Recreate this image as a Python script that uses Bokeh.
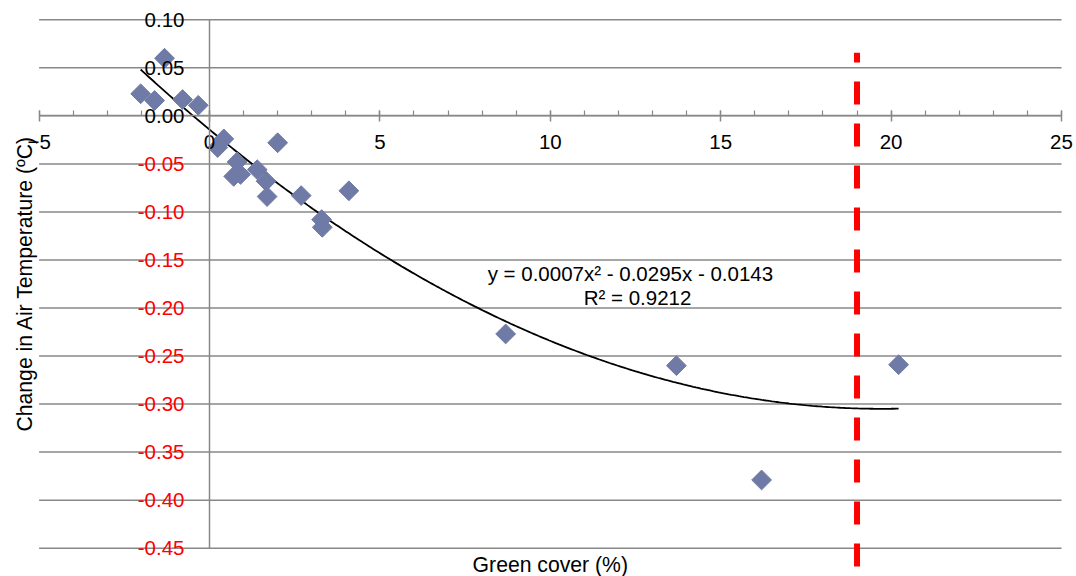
import numpy as np
from bokeh.plotting import figure
from bokeh.models import (Range1d, LinearAxis, FixedTicker, SingleIntervalTicker,
                          PrintfTickFormatter, Label)
from bokeh.embed import file_html
from bokeh.resources import INLINE

# ---------------- data ----------------
green_cover = [-2.02, -1.61, -1.32, -0.79, -0.33, 0.42, 0.24, 0.81, 0.71, 0.91, 1.40,
               1.66, 1.69, 2.00, 2.69, 3.29, 3.31, 4.09, 8.69, 13.70, 16.20, 20.22]
temp_change = [0.023, 0.016, 0.060, 0.017, 0.011, -0.024, -0.033, -0.048, -0.063, -0.061,
               -0.056, -0.068, -0.084, -0.028, -0.083, -0.108, -0.116, -0.078, -0.227,
               -0.260, -0.379, -0.259]

trend_coeffs = [0.000746, -0.02945, -0.0143]
trend_text = "y = 0.0007x² - 0.0295x - 0.0143"
r2_text = "R² = 0.9212"

threshold_x = 19
threshold_y = [-0.469, 0.0656]

x_axis_limits = (-5, 25)
y_axis_limits = (-0.45, 0.10)
y_ticks_pos = [0.0, 0.05, 0.10]
y_ticks_neg = [-0.05, -0.10, -0.15, -0.20, -0.25, -0.30, -0.35, -0.40, -0.45]
y_ticks_all = y_ticks_neg + y_ticks_pos

x_title = "Green cover (%)"
y_title = "Change in Air Temperature (ºC)"

FONT = "Liberation Sans"
FS = "20.5px"
FS_TITLE = "21.2px"
GRAY = "#888888"
MARKER = "#6F7BA6"

# the frame covers the whole canvas so that every text is inside it
p = figure(width=1076, height=576, x_range=Range1d(-6.1326, 25.44),
           y_range=Range1d(-0.4795, 0.1201),
           output_backend="svg", toolbar_location=None,
           min_border_left=0, min_border_right=0, min_border_top=0, min_border_bottom=0)
p.outline_line_color = None
p.background_fill_color = "white"
p.xgrid.visible = False
p.ygrid.visible = False

# horizontal gridlines, spanning the x axis extent
n = len(y_ticks_all)
p.segment(x0=[x_axis_limits[0]] * n, y0=y_ticks_all, x1=[x_axis_limits[1]] * n,
          y1=y_ticks_all, line_color=GRAY, line_width=1.5)

# x axis crossing at y = 0
xa = p.xaxis[0]
xa.fixed_location = 0
xa.bounds = x_axis_limits
xa.ticker = SingleIntervalTicker(interval=5, num_minor_ticks=5)
xa.axis_line_color = GRAY
xa.axis_line_width = 1.5
xa.major_tick_line_color = GRAY
xa.major_tick_line_width = 1.5
xa.minor_tick_line_color = GRAY
xa.minor_tick_line_width = 1.2
xa.major_tick_in = 5
xa.major_tick_out = 6
xa.minor_tick_in = 5
xa.minor_tick_out = 0
xa.major_label_standoff = 13
xa.major_label_text_font = FONT
xa.major_label_text_font_size = FS
xa.major_label_text_color = "black"

# y axis (negative labels in red) crossing at x = 0
ya = p.yaxis[0]
ya.fixed_location = 0
ya.bounds = y_axis_limits
ya.ticker = FixedTicker(ticks=y_ticks_neg)
ya.formatter = PrintfTickFormatter(format="%.2f")
ya.axis_line_color = GRAY
ya.axis_line_width = 1.5
ya.major_tick_in = 0
ya.major_tick_out = 0
ya.minor_tick_in = 0
ya.minor_tick_out = 0
ya.major_label_standoff = 25
ya.major_label_text_font = FONT
ya.major_label_text_font_size = FS
ya.major_label_text_color = "#FF0000"

# second y axis for non-negative labels (black)
ya2 = LinearAxis(fixed_location=0, bounds=y_axis_limits, ticker=FixedTicker(ticks=y_ticks_pos),
                 formatter=PrintfTickFormatter(format="%.2f"),
                 axis_line_color=None, major_tick_in=0, major_tick_out=0,
                 minor_tick_in=0, minor_tick_out=0, major_label_standoff=25,
                 major_label_text_font=FONT, major_label_text_font_size=FS,
                 major_label_text_color="black")
p.add_layout(ya2, "left")

# threshold dashed line
p.line([threshold_x, threshold_x], threshold_y, line_color="#FF0000", line_width=6,
       line_dash="23 19")

# trendline
x_fit = np.linspace(min(green_cover), max(green_cover), 300)
y_fit = np.polyval(trend_coeffs, x_fit)
p.line(x_fit, y_fit, line_color="black", line_width=1.8)

# scatter points (diamonds)
p.scatter(green_cover, temp_change, marker="square", size=14, angle=np.pi / 4,
          fill_color=MARKER, line_color=MARKER)

# trendline equation labels
p.add_layout(Label(x=12.35, y=-0.1645, text=trend_text, text_align="center",
                   text_baseline="middle", text_font=FONT, text_font_size=FS,
                   text_color="black"))
p.add_layout(Label(x=12.56, y=-0.1894, text=r2_text, text_align="center",
                   text_baseline="middle", text_font=FONT, text_font_size=FS,
                   text_color="black"))

# axis titles
p.add_layout(Label(x=-5.43, y=-0.1744, text=y_title, angle=np.pi / 2, text_align="center",
                   text_baseline="middle", text_font=FONT, text_font_size=FS_TITLE,
                   text_color="black"))
p.add_layout(Label(x=10, y=-0.4670, text=x_title, text_align="center",
                   text_baseline="middle", text_font=FONT, text_font_size=FS_TITLE,
                   text_color="black"))

open("out.html", "w").write(file_html(p, INLINE))
